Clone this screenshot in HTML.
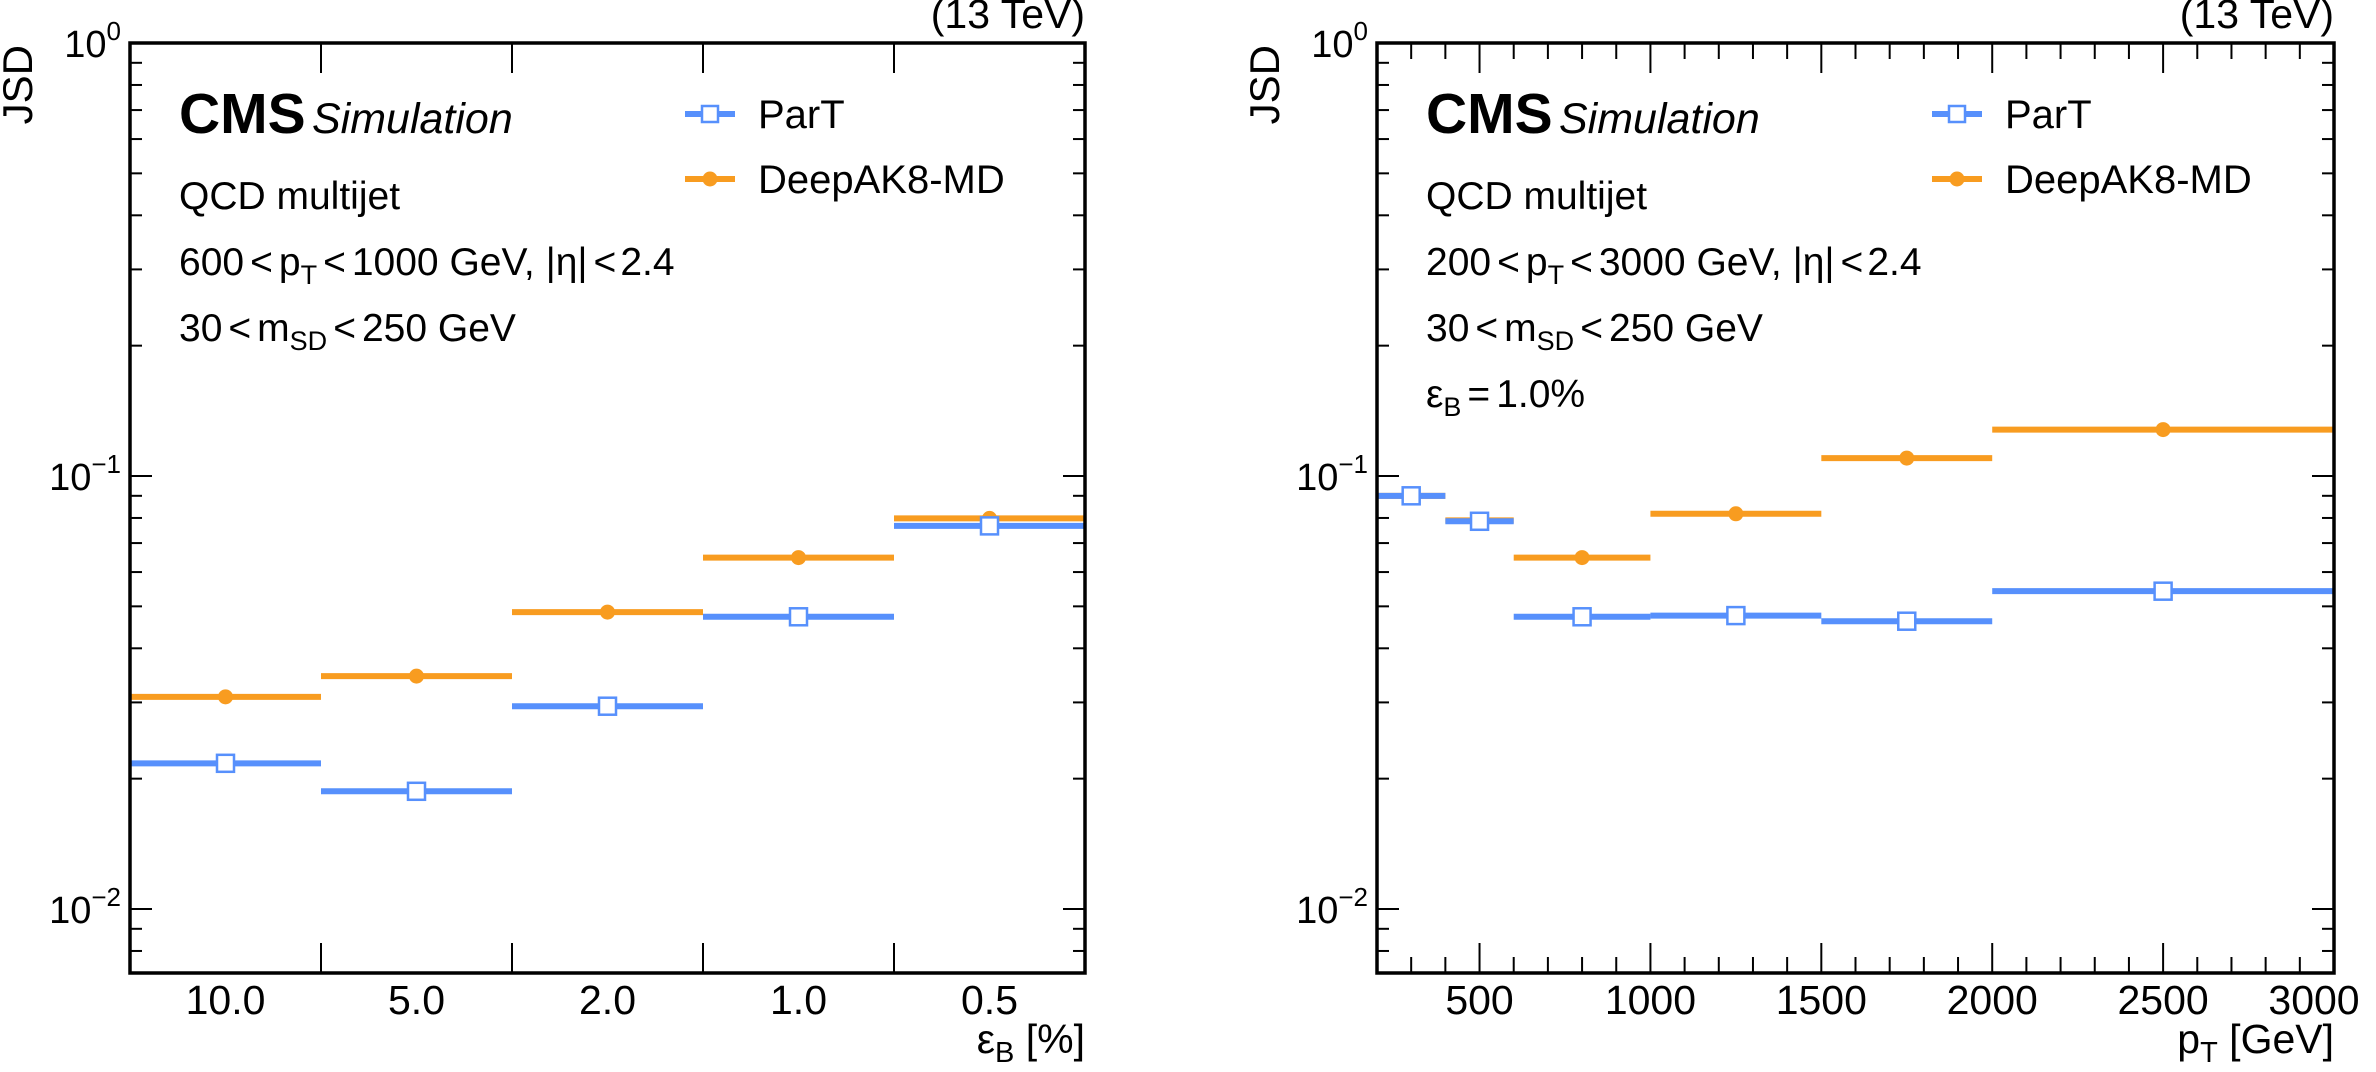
<!DOCTYPE html>
<html><head><meta charset="utf-8">
<style>
html,body{margin:0;padding:0;background:#fff;}
svg{display:block;font-family:"Liberation Sans",Arial,sans-serif;}
</style></head>
<body>
<svg id="fig" width="2376" height="1072" viewBox="0 0 2376 1072" xmlns="http://www.w3.org/2000/svg"></svg>
<script>
// ---- data ----
const leftCategories = ["10.0","5.0","2.0","1.0","0.5"];
const leftParT = [0.0217,0.0187,0.0294,0.0473,0.0767];
const leftDeep = [0.0309,0.0345,0.0485,0.0648,0.0798];
const rightBinEdges = [200,400,600,1000,1500,2000,3000];
const rightCenters = [300,500,800,1250,1750,2500];
const rightParT = [0.090,0.0786,0.0473,0.0476,0.0462,0.0542];
const rightDeep = [0.090,0.0790,0.0648,0.0818,0.110,0.128];
const rightTicks = [500,1000,1500,2000,2500,3000];
const yMajor = [1,0.1,0.01];
const yMajorLabels = [["10","0"],["10","−1"],["10","−2"]];

const NS="http://www.w3.org/2000/svg";
const svg=document.getElementById('fig');
const BLUE="#5790fc", ORANGE="#f89c20";
function el(tag,attrs,parent){const e=document.createElementNS(NS,tag);for(const k in attrs)e.setAttribute(k,attrs[k]);(parent||svg).appendChild(e);return e;}

const TOP=43,BOT=973;
function yScale(v){return 43+(-Math.log10(v))*433;}

function panel(x0,x1,opts){
  const g=el('g',{});
  
  
  const xs=opts.xScale;
  for(let d=0;d>=-3;d--){
    for(let m=1;m<=9;m++){
      const val=m*Math.pow(10,d);
      if(val>1||val<Math.pow(10,-2.148))continue;
      const y=yScale(val);
      const len=(m===1)?22:12;
      el('line',{x1:x0,y1:y,x2:x0+len,y2:y,stroke:'#000','stroke-width':2},g);
      el('line',{x1:x1,y1:y,x2:x1-len,y2:y,stroke:'#000','stroke-width':2},g);
    }
  }
  yMajor.forEach((v,i)=>{
    const t=el('text',{x:x0-9,y:yScale(v)+14,'text-anchor':'end','font-size':38},g);
    
    
    t.textContent=yMajorLabels[i][0];
    const s=el('tspan',{dy:-17,'font-size':26},t);s.textContent=yMajorLabels[i][1];
  });
  opts.xticks.forEach(tk=>{
    const x=xs(tk.v);
    el('line',{x1:x,y1:BOT,x2:x,y2:BOT-tk.len,stroke:'#000','stroke-width':2},g);
    el('line',{x1:x,y1:TOP,x2:x,y2:TOP+tk.len,stroke:'#000','stroke-width':2},g);
  });
  opts.xlabels.forEach(l=>{
    const t=el('text',{x:l.x,y:1014,'text-anchor':'middle','font-size':41},g);
    
    
    t.textContent=l.t;
  });
  function series(lo,hi,cx,vals,color,kind,nm){
    vals.forEach((v,i)=>{
      const y=yScale(v);
      const ln=el('line',{x1:lo(i),y1:y,x2:hi(i),y2:y,stroke:color,'stroke-width':6},g);
      
      
      let m;
      if(kind==='sq'){m=el('rect',{x:cx(i)-8.5,y:y-8.5,width:17,height:17,fill:'#fff',stroke:color,'stroke-width':2.5},g);}
      else{m=el('circle',{cx:cx(i),cy:y,r:7.5,fill:color},g);}
      
      
    });
  }
  series(opts.lo,opts.hi,opts.cx,opts.deep,ORANGE,'c','deepak8-md');
  series(opts.lo,opts.hi,opts.cx,opts.part,BLUE,'sq','part');
  const fr=el('rect',{x:x0,y:TOP,width:x1-x0,height:BOT-TOP,fill:'none',stroke:'#000','stroke-width':3.5},g);
  
  
  const ox=x0;
  let t=el('text',{x:x0-98,y:45,'font-size':42,transform:`rotate(-90 ${x0-98} 45)`,'text-anchor':'end'},g);
  
  t.textContent='JSD';
  t=el('text',{x:x1,y:28,'font-size':41,'text-anchor':'end'},g);
  
  t.textContent='(13 TeV)';
  t=el('text',{x:ox+49,y:133,'font-size':57,'font-weight':'bold'},g);
  
  t.textContent='CMS';
  t=el('text',{x:ox+182,y:133,'font-size':43,'font-style':'italic'},g);
  
  t.textContent='Simulation';
  opts.info.forEach((html,i)=>{
    const tt=el('text',{x:ox+49,y:209+i*66,'font-size':39},g);
    
    tt.innerHTML=html;
  });
  const lx=ox+555;
  [[BLUE,'sq','ParT',114],[ORANGE,'c','DeepAK8-MD',179]].forEach(([c,k,lab,y])=>{
    const lg=el('g',{},g);
    
    el('line',{x1:lx,y1:y,x2:lx+50,y2:y,stroke:c,'stroke-width':6},lg);
    if(k==='sq')el('rect',{x:lx+25-8,y:y-8,width:16,height:16,fill:'#fff',stroke:c,'stroke-width':2.5},lg);
    else el('circle',{cx:lx+25,cy:y,r:7.5,fill:c},lg);
    const tx=el('text',{x:lx+73,y:y+14,'font-size':40},lg);tx.textContent=lab;
  });
  t=el('text',{x:x1,y:1053,'font-size':41,'text-anchor':'end'},g);
  
  t.innerHTML=opts.xtitle;
}

const LX0=130,LX1=1085;
const bw=(LX1-LX0)/leftCategories.length;
const lXs=v=>LX0+v*bw;
panel(LX0,LX1,{name:'left-panel',xScale:lXs,
  xticks:[1,2,3,4].map(i=>({v:i,len:30})),
  xlabels:leftCategories.map((c,i)=>({x:lXs(i+0.5),t:c})),
  lo:i=>lXs(i),hi:i=>lXs(i+1),cx:i=>lXs(i+0.5),
  part:leftParT,deep:leftDeep,
  info:['QCD multijet','600<tspan dx="6">&lt;</tspan><tspan dx="6">p</tspan><tspan font-size="27" dy="9">T</tspan><tspan dy="-9" dx="6">&lt;</tspan><tspan dx="6">1000 GeV, |η|</tspan><tspan dx="6">&lt;</tspan><tspan dx="4">2.4</tspan>','30<tspan dx="6">&lt;</tspan><tspan dx="6">m</tspan><tspan font-size="27" dy="9">SD</tspan><tspan dy="-9" dx="6">&lt;</tspan><tspan dx="6">250 GeV</tspan>'],
  xtitle:'ε<tspan font-size="29" dy="9">B</tspan><tspan dy="-9"> [%]</tspan>'});

const RX0=1377,RX1=2334;
const rXs=v=>RX0+(v-200)/(2800)*(RX1-RX0);
const rt=[];for(let v=300;v<3000;v+=100)rt.push({v:v,len:(v%500===0)?30:16});
panel(RX0,RX1,{name:'right-panel',xScale:rXs,
  xticks:rt,
  xlabels:rightTicks.map(v=>({x:v===3000?rXs(v)-20:rXs(v),t:String(v)})),
  lo:i=>rXs(rightBinEdges[i]),hi:i=>rXs(rightBinEdges[i+1]),cx:i=>rXs(rightCenters[i]),
  part:rightParT,deep:rightDeep,
  info:['QCD multijet','200<tspan dx="6">&lt;</tspan><tspan dx="6">p</tspan><tspan font-size="27" dy="9">T</tspan><tspan dy="-9" dx="6">&lt;</tspan><tspan dx="6">3000 GeV, |η|</tspan><tspan dx="6">&lt;</tspan><tspan dx="4">2.4</tspan>','30<tspan dx="6">&lt;</tspan><tspan dx="6">m</tspan><tspan font-size="27" dy="9">SD</tspan><tspan dy="-9" dx="6">&lt;</tspan><tspan dx="6">250 GeV</tspan>','ε<tspan font-size="27" dy="9">B</tspan><tspan dy="-9" dx="6">=</tspan><tspan dx="6">1.0%</tspan>'],
  xtitle:'p<tspan font-size="29" dy="9">T</tspan><tspan dy="-9"> [GeV]</tspan>'});
</script>
</body></html>
